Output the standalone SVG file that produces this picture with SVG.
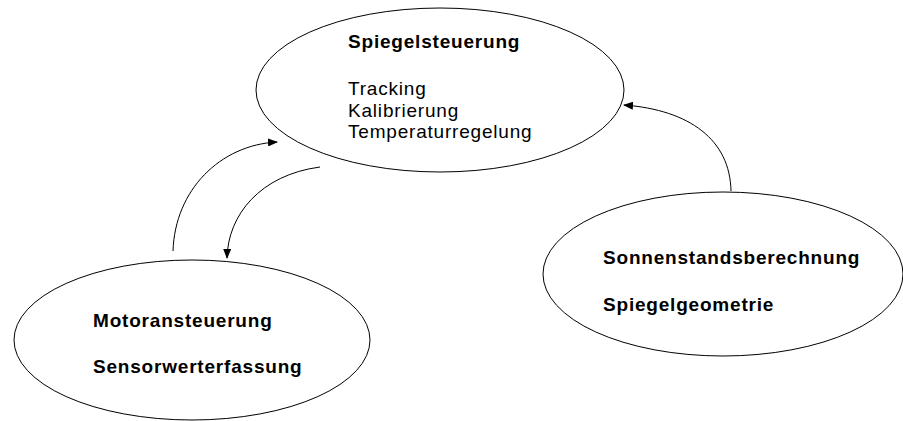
<svg xmlns="http://www.w3.org/2000/svg" width="903" height="421" viewBox="0 0 903 421">
<defs>
<style>
.node ellipse{fill:#fff;stroke:#000;stroke-width:1}
.t{font-family:"Liberation Sans",Arial,sans-serif;font-size:19px;letter-spacing:0.8px;fill:#000}
.b{font-weight:bold}
.conn path{fill:none;stroke:#000;stroke-width:1}
</style>
<marker id="ah" markerWidth="10" markerHeight="8" refX="9" refY="4" orient="auto" markerUnits="userSpaceOnUse">
<path d="M0,0 L10,4 L0,8 Z" fill="#000"/>
</marker>
</defs>
<rect width="903" height="421" fill="#fff"/>
<g id="spiegelsteuerung" class="node">
<ellipse cx="440" cy="90" rx="184" ry="82"/>
<text class="t b" x="348" y="48">Spiegelsteuerung</text>
<text class="t" x="348" y="95">Tracking</text>
<text class="t" x="348" y="117">Kalibrierung</text>
<text class="t" x="348" y="138">Temperaturregelung</text>
</g>
<g id="motoransteuerung" class="node">
<ellipse cx="192" cy="340" rx="178" ry="80"/>
<text class="t b" x="93" y="327">Motoransteuerung</text>
<text class="t b" x="93" y="373">Sensorwerterfassung</text>
</g>
<g id="sonnenstand" class="node">
<ellipse cx="723" cy="274" rx="180" ry="82"/>
<text class="t b" x="603" y="264">Sonnenstandsberechnung</text>
<text class="t b" x="603" y="311">Spiegelgeometrie</text>
</g>
<g id="connectors" class="conn">
<path d="M173,251 C175,190 220,145 277,142" marker-end="url(#ah)"/>
<path d="M320,167 C260,175 228,215 227,258" marker-end="url(#ah)"/>
<path d="M731,191 C730,140 690,110 624,105" marker-end="url(#ah)"/>
</g>
</svg>
